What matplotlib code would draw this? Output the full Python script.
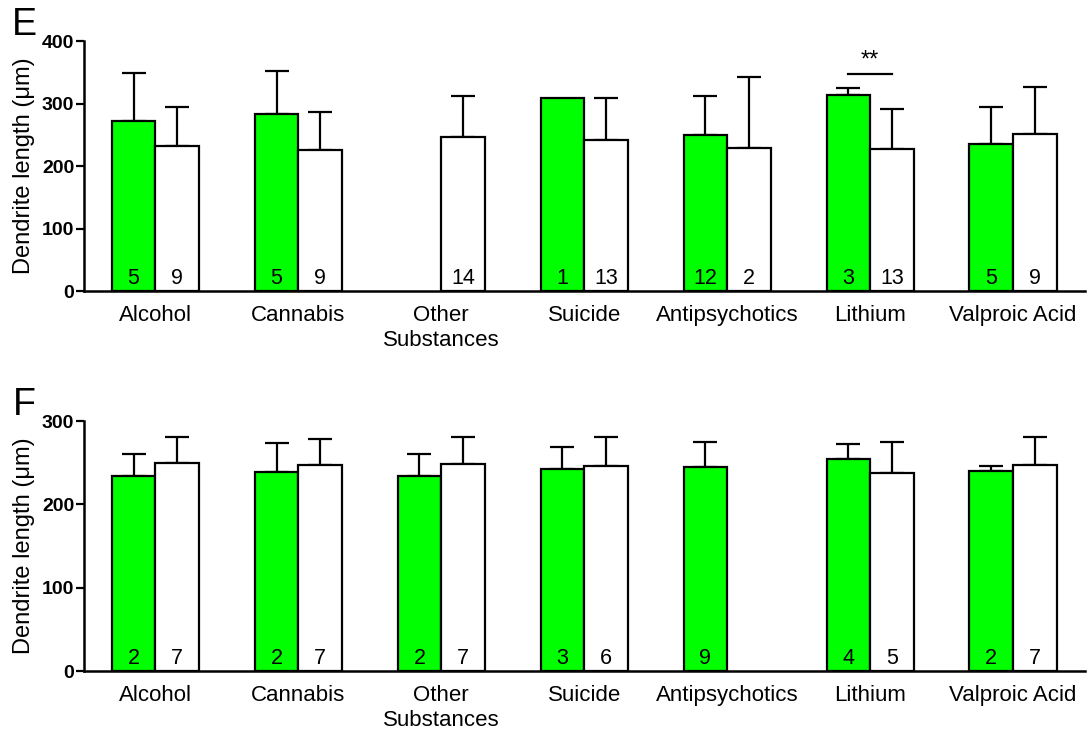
import numpy as np
import matplotlib
matplotlib.use('Agg')
import matplotlib.pyplot as plt

plt.rcParams['font.family'] = ['Liberation Sans', 'DejaVu Sans']

categories = ['Alcohol', 'Cannabis', 'Other\nSubstances', 'Suicide',
              'Antipsychotics', 'Lithium', 'Valproic Acid']

# panel E (None = no bar)
e_green = [272, 283, None, 309, 250, 314, 236]
e_green_err = [77, 69, None, 0, 63, 11, 58]
e_green_n = ['5', '5', '', '1', '12', '3', '5']
e_white = [232, 226, 247, 242, 229, 228, 252]
e_white_err = [62, 61, 66, 67, 113, 64, 75]
e_white_n = ['9', '9', '14', '13', '2', '13', '9']

# panel F
f_green = [234, 239, 234, 243, 245, 254, 240]
f_green_err = [26, 35, 26, 26, 30, 19, 6]
f_green_n = ['2', '2', '2', '3', '9', '4', '2']
f_white = [250, 247, 249, 246, None, 238, 247]
f_white_err = [31, 31, 32, 35, None, 37, 34]
f_white_n = ['7', '7', '7', '6', '', '5', '7']

GREEN = '#00ff00'
W = 0.305


def draw_panel(ax, green, green_err, green_n, white, white_err, white_n, ymax, letter):
    x = np.arange(len(categories))
    for vals, errs, ns, col, off in [(green, green_err, green_n, GREEN, -W / 2),
                                     (white, white_err, white_n, 'white', W / 2)]:
        for i in range(len(x)):
            if vals[i] is None:
                continue
            ax.bar(x[i] + off, vals[i], width=W, color=col, edgecolor='black',
                   linewidth=1.6, zorder=2)
            if errs[i]:
                ax.errorbar(x[i] + off, vals[i], yerr=[[0], [errs[i]]], fmt='none',
                            ecolor='black', elinewidth=1.6, capsize=8.5, capthick=1.6,
                            zorder=1)
            ax.annotate(ns[i], (x[i] + off, 0), xytext=(0, 1.5), textcoords='offset points',
                        ha='center', va='bottom', fontsize=15.5, zorder=3)
    ax.set_xlim(-0.5, 6.5)
    ax.set_ylim(0, ymax)
    ax.set_yticks(np.arange(0, ymax + 1, 100))
    ax.set_xticks(x)
    ax.set_xticklabels(categories, fontsize=16, linespacing=1.25)
    ax.tick_params(axis='x', length=0, pad=10)
    ax.tick_params(axis='y', length=6, width=1.6, labelsize=14, pad=1)
    for lab in ax.get_yticklabels():
        lab.set_fontweight('bold')
    for s in ['top', 'right']:
        ax.spines[s].set_visible(False)
    for s in ['left', 'bottom']:
        ax.spines[s].set_linewidth(1.8)
    ax.set_ylabel('Dendrite length (\u03bcm)', fontsize=17, labelpad=5)
    ax.text(-0.06, 1.064, letter, transform=ax.transAxes, fontsize=27,
            ha='center', va='center')


fig = plt.figure(figsize=(10.9, 7.35), dpi=100)
axE = fig.add_axes([0.077, 0.604, 0.918, 0.340])
axF = fig.add_axes([0.077, 0.087, 0.918, 0.340])

draw_panel(axE, e_green, e_green_err, e_green_n, e_white, e_white_err, e_white_n, 400, 'E')
draw_panel(axF, f_green, f_green_err, f_green_n, f_white, f_white_err, f_white_n, 300, 'F')

# significance marker on Lithium
axE.plot([5 - W / 2, 5 + W / 2], [347, 347], color='black', linewidth=1.6)
axE.text(5, 352, '**', ha='center', va='bottom', fontsize=17)

fig.savefig('out.png', dpi=100)
